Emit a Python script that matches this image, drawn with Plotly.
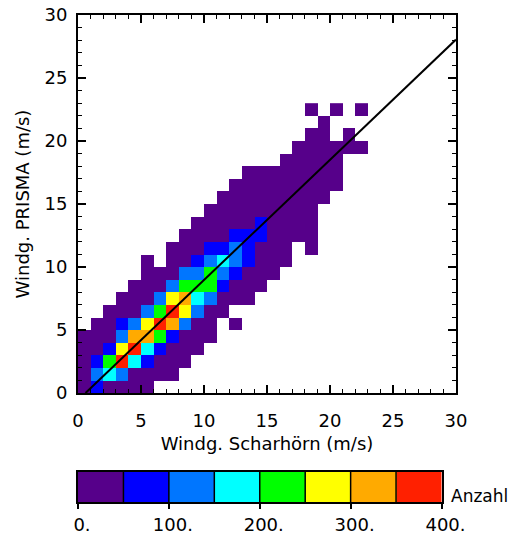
import plotly.graph_objects as go

# ---- data: counts per 1 m/s x 1 m/s bin (row index = PRISMA bin, column = Scharhörn bin)
n_cols = 23
counts = [
    [30, 60, 25, 15, 8, 3],                                              # y 0-1
    [35, 110, 160, 105, 40, 20, 10, 4],                                  # y 1-2
    [20, 80, 210, 360, 170, 70, 35, 15, 5],                              # y 2-3
    [10, 40, 90, 260, 380, 190, 65, 30, 12, 4],                          # y 3-4
    [5, 20, 45, 120, 310, 330, 220, 85, 40, 15, 5],                      # y 4-5
    [0, 8, 30, 70, 140, 290, 365, 320, 130, 45, 15, 0, 3],               # y 5-6
    [0, 0, 10, 30, 48, 115, 240, 370, 280, 110, 35, 10],                 # y 6-7
    [0, 0, 0, 8, 25, 45, 120, 270, 310, 165, 105, 40, 15, 5],            # y 7-8
    [0, 0, 0, 0, 10, 25, 48, 135, 215, 230, 210, 80, 30, 12, 4],         # y 8-9
    [0, 0, 0, 0, 0, 8, 20, 45, 115, 130, 205, 140, 70, 30, 12, 4],       # y 9-10
    [0, 0, 0, 0, 0, 3, 0, 15, 40, 80, 120, 165, 130, 60, 25, 10, 4],     # y 10-11
    [0, 0, 0, 0, 0, 0, 0, 8, 25, 45, 85, 90, 110, 70, 35, 15, 5, 0, 3],  # y 11-12
    [0, 0, 0, 0, 0, 0, 0, 0, 6, 20, 40, 48, 75, 80, 60, 35, 15, 6, 3],   # y 12-13
    [0, 0, 0, 0, 0, 0, 0, 0, 0, 5, 15, 30, 45, 48, 55, 40, 20, 10, 4],   # y 13-14
    [0, 0, 0, 0, 0, 0, 0, 0, 0, 0, 4, 12, 25, 38, 45, 40, 25, 12, 5],    # y 14-15
    [0, 0, 0, 0, 0, 0, 0, 0, 0, 0, 0, 3, 10, 20, 30, 35, 28, 18, 8, 3],  # y 15-16
    [0, 0, 0, 0, 0, 0, 0, 0, 0, 0, 0, 0, 3, 8, 15, 22, 25, 20, 12, 6, 2],  # y 16-17
    [0, 0, 0, 0, 0, 0, 0, 0, 0, 0, 0, 0, 0, 3, 8, 12, 15, 14, 10, 5, 2],   # y 17-18
    [0, 0, 0, 0, 0, 0, 0, 0, 0, 0, 0, 0, 0, 0, 0, 0, 6, 8, 7, 4, 2],       # y 18-19
    [0, 0, 0, 0, 0, 0, 0, 0, 0, 0, 0, 0, 0, 0, 0, 0, 0, 3, 5, 4, 3, 2, 1], # y 19-20
    [0, 0, 0, 0, 0, 0, 0, 0, 0, 0, 0, 0, 0, 0, 0, 0, 0, 0, 2, 3, 0, 1],    # y 20-21
    [0, 0, 0, 0, 0, 0, 0, 0, 0, 0, 0, 0, 0, 0, 0, 0, 0, 0, 0, 2],          # y 21-22
    [0, 0, 0, 0, 0, 0, 0, 0, 0, 0, 0, 0, 0, 0, 0, 0, 0, 0, 1, 0, 1, 0, 1], # y 22-23
]

# regression line  y = slope * x + intercept
slope = 0.954
intercept = -0.57

# colour levels (counts)
level_edges = [0, 50, 100, 150, 200, 250, 300, 350, 400]
level_colors = ["rgb(86,0,138)", "rgb(0,0,255)", "rgb(0,118,255)", "rgb(0,255,255)",
                "rgb(0,255,0)", "rgb(255,255,0)", "rgb(255,170,0)", "rgb(255,32,0)"]
cb_ticks = [0, 100, 200, 300, 400]
cb_ticktext = ["0.", "100.", "200.", "300.", "400."]

axis_ticks = [0, 5, 10, 15, 20, 25, 30]

# ---- build figure
z = [[(v if v > 0 else None) for v in (row + [0] * (n_cols - len(row)))] for row in counts]
x_centers = [i + 0.5 for i in range(n_cols)]
y_centers = [j + 0.5 for j in range(len(counts))]

nlev = len(level_colors)
colorscale = []
for i, c in enumerate(level_colors):
    colorscale.append([i / nlev, c])
    colorscale.append([(i + 1) / nlev, c])

fig = go.Figure()
fig.add_trace(go.Heatmap(x=x_centers, y=y_centers, z=z, zmin=level_edges[0], zmax=level_edges[-1],
                         colorscale=colorscale, showscale=False, hoverongaps=False,
                         xaxis="x", yaxis="y"))

x_start = -intercept / slope
x_end = 30
fig.add_trace(go.Scatter(x=[x_start, x_end], y=[slope * x_start + intercept, slope * x_end + intercept],
                         mode="lines", line=dict(color="black", width=2), showlegend=False,
                         xaxis="x", yaxis="y"))

cb_centers = [(level_edges[i] + level_edges[i + 1]) / 2 for i in range(nlev)]
fig.add_trace(go.Heatmap(x=cb_centers, y=[0.5], z=[cb_centers], zmin=level_edges[0], zmax=level_edges[-1],
                         colorscale=colorscale, showscale=False, xaxis="x2", yaxis="y2"))

for e in level_edges[1:-1]:
    fig.add_shape(type="line", xref="x2", yref="y2 domain", x0=e, x1=e, y0=0, y1=1,
                  line=dict(color="black", width=1.5))

font_family = "DejaVu Sans"
axis_common = dict(
    range=[0, 30], tickvals=axis_ticks, ticks="inside", ticklen=8, tickwidth=1.5,
    tickcolor="black", showline=True, linewidth=2, linecolor="black", mirror="ticks",
    showgrid=False, zeroline=False, automargin=False,
    minor=dict(dtick=1, ticks="inside", ticklen=4, tickwidth=1.2, tickcolor="black", showgrid=False),
    tickfont=dict(size=18, family=font_family, color="black"),
)

W, H = 512, 535
ml, mr, mt, mb = 78, 56, 15, 33
ph = H - mt - mb
pw = W - ml - mr
main_bottom_px = 393
cb_top_px, cb_right_px = 472, 441.5

fig.update_layout(
    width=W, height=H,
    margin=dict(l=ml, r=mr, t=mt, b=mb, pad=0, autoexpand=False),
    paper_bgcolor="white", plot_bgcolor="white",
    showlegend=False,
    font=dict(family=font_family, size=18, color="black"),
    xaxis=dict(axis_common, domain=[0, 1], anchor="y", ticklabelstandoff=10,
               title=dict(text="Windg. Scharhörn (m/s)", font=dict(size=18), standoff=8)),
    yaxis=dict(axis_common, domain=[(H - mb - main_bottom_px) / ph, 1], anchor="x", ticklabelstandoff=5,
               title=dict(text="Windg. PRISMA (m/s)", font=dict(size=18), standoff=10)),
    xaxis2=dict(domain=[0, (cb_right_px - ml) / pw], anchor="y2", range=[level_edges[0], level_edges[-1]],
                tickvals=cb_ticks, ticktext=cb_ticktext, ticks="outside", ticklen=5, tickwidth=1.5,
                tickcolor="black", showline=True, linewidth=1.5, linecolor="black", mirror=True,
                showgrid=False, zeroline=False, ticklabelshift=4, ticklabelstandoff=1, automargin=False,
                tickfont=dict(size=18, family=font_family, color="black")),
    yaxis2=dict(domain=[0, (H - mb - cb_top_px) / ph], anchor="x2", range=[0, 1], automargin=False,
                showticklabels=False, ticks="", showline=True, linewidth=1.5, linecolor="black",
                mirror=True, showgrid=False, zeroline=False),
    annotations=[dict(text="Anzahl", xref="paper", yref="paper",
                      x=(449 - ml) / pw, y=(H - mb - 496) / ph, xanchor="left", yanchor="middle",
                      showarrow=False, font=dict(size=17, family=font_family, color="black"))],
)

fig.write_html("out.html")
